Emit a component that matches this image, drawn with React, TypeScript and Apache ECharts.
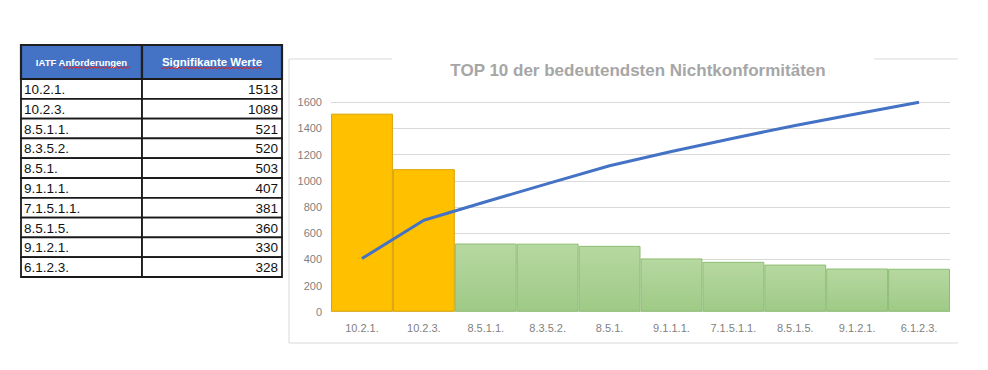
import React, { useEffect, useRef } from "react";
import * as echarts from "echarts";

const title = "TOP 10 der bedeutendsten Nichtkonformitäten";
const tableHeaders = ["IATF Anforderungen", "Signifikante Werte"];
const categories = ["10.2.1.", "10.2.3.", "8.5.1.1.", "8.3.5.2.", "8.5.1.", "9.1.1.1.", "7.1.5.1.1.", "8.5.1.5.", "9.1.2.1.", "6.1.2.3."];
const values = [1513, 1089, 521, 520, 503, 407, 381, 360, 330, 328];
const cumulativeLine = [406, 699, 840, 979, 1115, 1224, 1326, 1423, 1512, 1600];
const highlightCount = 2;
const yMin = 0;
const yMax = 1600;
const yInterval = 200;

const FONT = "'Liberation Sans', Arial, sans-serif";

function squiggle(x0: number, x1: number, y: number) {
  const pts: number[][] = [];
  let up = true;
  for (let x = x0; x <= x1; x += 1.8) {
    pts.push([x, up ? y - 1 : y + 1]);
    up = !up;
  }
  return {
    type: "polyline",
    z: 200,
    shape: { points: pts },
    style: { stroke: "#e0201b", lineWidth: 1, fill: "none" },
    silent: true,
  };
}

function buildTable() {
  const x0 = 21, xMid = 142, x1 = 282;
  const hTop = 45, hBot = 79;
  const rowH = 19.8;
  const els: any[] = [];
  els.push({ type: "rect", z: 100, shape: { x: x0, y: hTop, width: xMid - x0, height: hBot - hTop }, style: { fill: "#4472c4", stroke: "#1f1f1f", lineWidth: 2.2 } });
  els.push({ type: "rect", z: 100, shape: { x: xMid, y: hTop, width: x1 - xMid, height: hBot - hTop }, style: { fill: "#4472c4", stroke: "#1f1f1f", lineWidth: 2.2 } });
  els.push({ type: "text", z: 150, x: (x0 + xMid) / 2, y: 62, style: { text: tableHeaders[0], fill: "#ffffff", font: `bold 9.5px ${FONT}`, align: "center", verticalAlign: "middle" } });
  els.push({ type: "text", z: 150, x: (xMid + x1) / 2, y: 62, style: { text: tableHeaders[1], fill: "#ffffff", font: `bold 11.5px ${FONT}`, align: "center", verticalAlign: "middle" } });
  els.push(squiggle(63, 130, 67.5));
  els.push(squiggle(161, 263, 68));
  categories.forEach((c, i) => {
    const y = hBot + i * rowH;
    els.push({ type: "rect", z: 100, shape: { x: x0, y, width: xMid - x0, height: rowH }, style: { fill: "#ffffff", stroke: "#1a1a1a", lineWidth: 1.8 } });
    els.push({ type: "rect", z: 100, shape: { x: xMid, y, width: x1 - xMid, height: rowH }, style: { fill: "#ffffff", stroke: "#1a1a1a", lineWidth: 1.8 } });
    els.push({ type: "text", z: 150, x: x0 + 3, y: y + rowH / 2 + 0.5, style: { text: c, fill: "#111111", font: `13.5px ${FONT}`, align: "left", verticalAlign: "middle" } });
    els.push({ type: "text", z: 150, x: x1 - 4, y: y + rowH / 2 + 0.5, style: { text: String(values[i]), fill: "#111111", font: `13.5px ${FONT}`, align: "right", verticalAlign: "middle" } });
  });
  return els;
}

function buildFrame() {
  const stroke = "#d9d9d9";
  return [
    { type: "line", shape: { x1: 289, y1: 59, x2: 289, y2: 343 }, style: { stroke, lineWidth: 1 } },
    { type: "line", shape: { x1: 289, y1: 59, x2: 392, y2: 59 }, style: { stroke, lineWidth: 1 } },
    { type: "line", shape: { x1: 874, y1: 59, x2: 958, y2: 59 }, style: { stroke, lineWidth: 1 } },
    { type: "line", shape: { x1: 289, y1: 343, x2: 958, y2: 343 }, style: { stroke, lineWidth: 1 } },
  ];
}

export default function App() {
  const ref = useRef<HTMLDivElement>(null);
  useEffect(() => {
    if (!ref.current) return;
    const chart = echarts.init(ref.current, null, { renderer: "svg" });
    const yellow = { color: "#ffc000", borderColor: "#d9a400", borderWidth: 1 };
    const green = {
      color: new echarts.graphic.LinearGradient(0, 0, 0, 1, [
        { offset: 0, color: "#b6d8a1" },
        { offset: 1, color: "#9fca86" },
      ]),
      borderColor: "#8dbd72",
      borderWidth: 1,
    };
    chart.setOption({
      animation: false,
      backgroundColor: "#ffffff",
      title: {
        text: title,
        left: 633,
        textAlign: "center",
        top: 57,
        textStyle: { color: "#a6a6a6", fontSize: 17, fontWeight: "bold", fontFamily: FONT },
      },
      grid: { left: 331, right: 38, top: 102.3, bottom: 58.3, containLabel: false },
      xAxis: {
        type: "category",
        data: categories,
        boundaryGap: true,
        axisLine: { show: true, lineStyle: { color: "#d9d9d9" } },
        axisTick: { show: false },
        axisLabel: { color: "#7f7f7f", fontSize: 11, fontFamily: FONT, margin: 11 },
      },
      yAxis: {
        type: "value",
        min: yMin,
        max: yMax,
        interval: yInterval,
        axisLine: { show: false },
        axisTick: { show: false },
        splitLine: { lineStyle: { color: "#d9d9d9", width: 1 } },
        axisLabel: { color: "#7f7f7f", fontSize: 11, fontFamily: FONT, margin: 9, formatter: (v: number) => String(v) },
      },
      series: [
        {
          type: "bar",
          barCategoryGap: "0%",
          data: values.map((v, i) => ({ value: v, itemStyle: i < highlightCount ? yellow : green })),
        },
        {
          type: "line",
          data: cumulativeLine,
          showSymbol: false,
          symbol: "none",
          lineStyle: { color: "#4472c4", width: 3 },
          z: 5,
        },
      ],
      graphic: [...buildFrame(), ...buildTable()],
    });
    return () => chart.dispose();
  }, []);
  return <div ref={ref} style={{ position: "fixed", left: 0, top: 0, width: 988, height: 370 }} />;
}
